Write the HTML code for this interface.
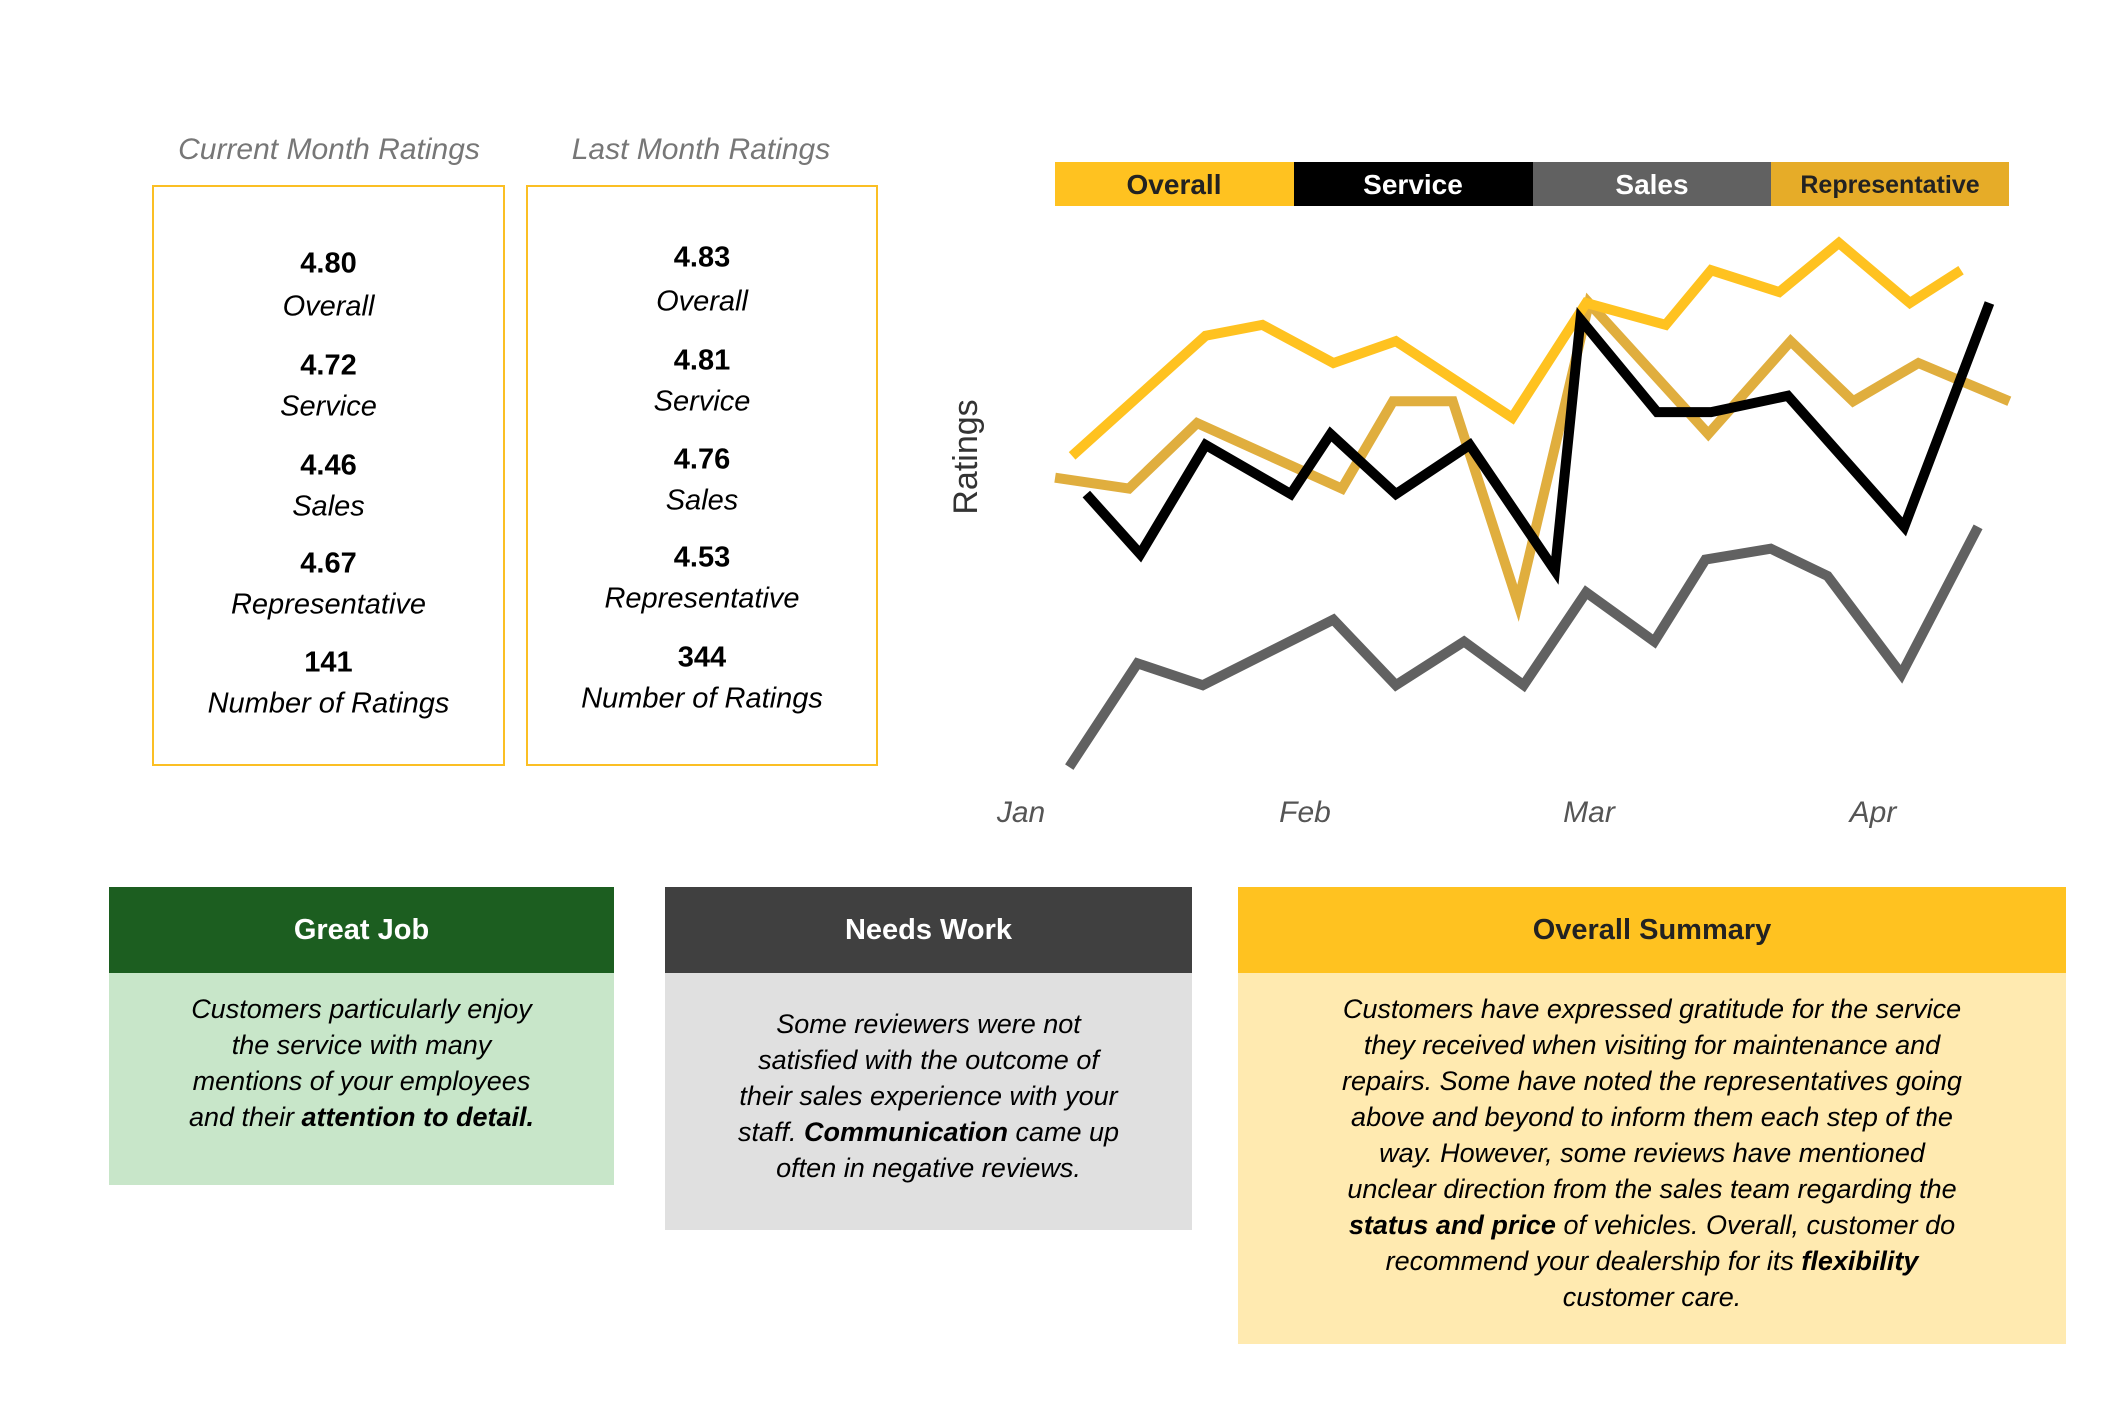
<!DOCTYPE html>
<html><head><meta charset="utf-8">
<style>
*{margin:0;padding:0;box-sizing:border-box}
body{width:2118px;height:1406px;background:#fff;position:relative;overflow:hidden;font-family:"Liberation Sans",sans-serif}
.abs{position:absolute}
.ttl{position:absolute;top:133px;font-size:30px;font-style:italic;color:#777;text-align:center;width:380px}
.box{position:absolute;top:185px;height:581px;border:2px solid #FBBF24}
.v{position:absolute;left:0;right:0;text-align:center;font-weight:bold;font-size:29px;color:#000;transform:translateY(-50%)}
.l{position:absolute;left:0;right:0;text-align:center;font-style:italic;font-size:29px;color:#000;transform:translateY(-50%)}
.ph{position:absolute;display:flex;align-items:center;justify-content:center;font-weight:bold;font-size:29px}
.pb{position:absolute;text-align:center;font-style:italic;font-size:27px;line-height:36px;color:#000}
</style></head><body>
<div class="ttl" style="left:139px">Current Month Ratings</div>
<div class="ttl" style="left:511px">Last Month Ratings</div>
<div class="box" style="left:152px;width:353px">
<div class="v" style="top:77px">4.80</div><div class="l" style="top:120px">Overall</div>
<div class="v" style="top:179px">4.72</div><div class="l" style="top:220px">Service</div>
<div class="v" style="top:279px">4.46</div><div class="l" style="top:320px">Sales</div>
<div class="v" style="top:377px">4.67</div><div class="l" style="top:418px">Representative</div>
<div class="v" style="top:476px">141</div><div class="l" style="top:517px">Number of Ratings</div>
</div>
<div class="box" style="left:526px;width:352px">
<div class="v" style="top:71px">4.83</div><div class="l" style="top:115px">Overall</div>
<div class="v" style="top:174px">4.81</div><div class="l" style="top:215px">Service</div>
<div class="v" style="top:273px">4.76</div><div class="l" style="top:314px">Sales</div>
<div class="v" style="top:371px">4.53</div><div class="l" style="top:412px">Representative</div>
<div class="v" style="top:471px">344</div><div class="l" style="top:512px">Number of Ratings</div>
</div>

<svg class="abs" style="left:0;top:0" width="2118" height="860" id="chart">
<g>
<rect x="1055" y="162" width="239" height="44" fill="#FFC220"/><text x="1174" y="194" text-anchor="middle" font-size="28" font-weight="bold" fill="#222">Overall</text>
<rect x="1294" y="162" width="239" height="44" fill="#000"/><text x="1413" y="194" text-anchor="middle" font-size="28" font-weight="bold" fill="#fff">Service</text>
<rect x="1533" y="162" width="238" height="44" fill="#616161"/><text x="1652" y="194" text-anchor="middle" font-size="28" font-weight="bold" fill="#fff">Sales</text>
<rect x="1771" y="162" width="238" height="44" fill="#E6AC28"/><text x="1890" y="193" text-anchor="middle" font-size="25" font-weight="bold" fill="#222">Representative</text>
</g>
<text x="0" y="0" transform="translate(977,457) rotate(-90)" text-anchor="middle" font-size="34" fill="#333">Ratings</text>
<g id="xaxis"></g><g id="lines"></g>
</svg>

<div class="ph" style="left:109px;top:887px;width:505px;height:86px;background:#1C5E20;color:#fff">Great Job</div>
<div class="pb" style="left:109px;top:973px;width:505px;height:212px;background:#C8E6C9;padding-top:18px">Customers particularly enjoy<br>the service with many<br>mentions of your employees<br>and their <b>attention to detail.</b></div>
<div class="ph" style="left:665px;top:887px;width:527px;height:86px;background:#404040;color:#fff">Needs Work</div>
<div class="pb" style="left:665px;top:973px;width:527px;height:257px;background:#E0E0E0;padding-top:33px">Some reviewers were not<br>satisfied with the outcome of<br>their sales experience with your<br>staff. <b>Communication</b> came up<br>often in negative reviews.</div>
<div class="ph" style="left:1238px;top:887px;width:828px;height:86px;background:#FFC220;color:#222">Overall Summary</div>
<div class="pb" style="left:1238px;top:973px;width:828px;height:371px;background:#FFEAB0;padding-top:18px">Customers have expressed gratitude for the service<br>they received when visiting for maintenance and<br>repairs. Some have noted the representatives going<br>above and beyond to inform them each step of the<br>way. However, some reviews have mentioned<br>unclear direction from the sales team regarding the<br><b>status and price</b> of vehicles. Overall, customer do<br>recommend your dealership for its <b>flexibility</b><br>customer care.</div>

<script>
const months = ["Jan","Feb","Mar","Apr"];
const overallT = [0.18,0.65,0.85,1.10,1.32,1.73,1.99,2.27,2.43,2.67,2.88,3.13,3.31];
const overallV = [4.59,4.81,4.83,4.76,4.80,4.66,4.87,4.83,4.93,4.89,4.98,4.87,4.93];
const repT = [0.12,0.38,0.62,1.13,1.31,1.52,1.75,2.00,2.42,2.71,2.93,3.16,3.48];
const repV = [4.55,4.53,4.65,4.53,4.69,4.69,4.32,4.87,4.63,4.80,4.69,4.76,4.69];
const serviceT = [0.23,0.42,0.65,0.95,1.09,1.32,1.58,1.88,1.97,2.24,2.43,2.70,3.11,3.41];
const serviceV = [4.52,4.41,4.61,4.52,4.63,4.52,4.61,4.38,4.84,4.67,4.67,4.70,4.46,4.87];
const salesT = [0.17,0.41,0.64,1.10,1.32,1.56,1.77,1.99,2.23,2.41,2.64,2.84,3.10,3.37];
const salesV = [4.02,4.21,4.17,4.29,4.17,4.25,4.17,4.34,4.25,4.40,4.42,4.37,4.19,4.46];
const NS="http://www.w3.org/2000/svg";
function xS(t){return 1021+t*284;}
function yS(v){return 232+(5-v)*546;}
const xa=document.getElementById('xaxis');
months.forEach((m,i)=>{
  const t=document.createElementNS(NS,'text');
  
  
  t.setAttribute('x',xS(i));t.setAttribute('y',822);
  t.setAttribute('text-anchor','middle');t.setAttribute('font-size','30');
  t.setAttribute('font-style','italic');t.setAttribute('fill','#555');
  t.textContent=m;xa.appendChild(t);
});
const lg=document.getElementById('lines');
function draw(T,V,color,name){
  const p=document.createElementNS(NS,'polyline');
  
  
  p.setAttribute('points',T.map((t,i)=>xS(t)+','+yS(V[i])).join(' '));
  p.setAttribute('fill','none');p.setAttribute('stroke',color);
  p.setAttribute('stroke-width','10');p.setAttribute('stroke-linejoin','miter');
  lg.appendChild(p);
}
draw(repT,repV,'#E0AE3E','representative-line');
draw(overallT,overallV,'#FFC220','overall-line');
draw(salesT,salesV,'#616161','sales-line');
draw(serviceT,serviceV,'#000','service-line');
</script>
</body></html>
